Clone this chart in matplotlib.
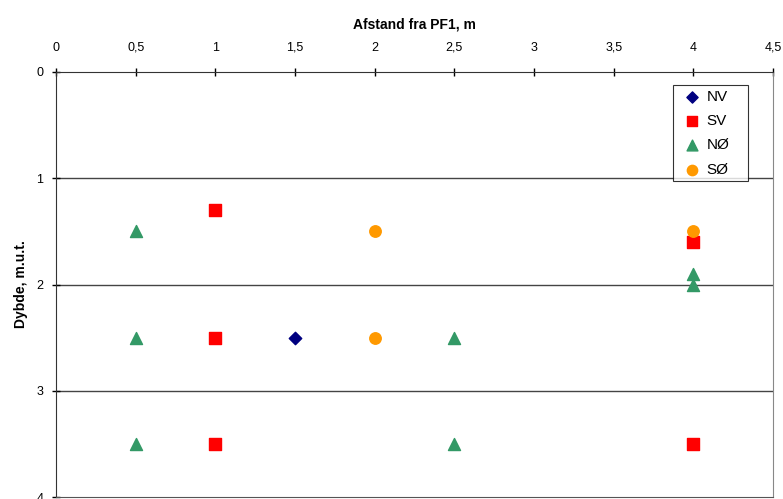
import matplotlib
matplotlib.use("Agg")
import matplotlib.pyplot as plt
from matplotlib.ticker import FuncFormatter

plt.rcParams['font.family'] = ['Liberation Sans', 'DejaVu Sans']

# afstand (m) og dybde (m.u.t.) for hver serie
nv_x = [1.5]
nv_y = [2.5]
sv_x = [1, 1, 1, 4, 4]
sv_y = [1.3, 2.5, 3.5, 1.6, 3.5]
no_x = [0.5, 0.5, 0.5, 2.5, 2.5, 4, 4]
no_y = [1.5, 2.5, 3.5, 2.5, 3.5, 1.9, 2.0]
so_x = [2, 2, 4]
so_y = [1.5, 2.5, 1.5]

x_ticks = [0, 0.5, 1, 1.5, 2, 2.5, 3, 3.5, 4, 4.5]
y_ticks = [0, 1, 2, 3, 4]

fig = plt.figure(figsize=(7.83, 4.99), dpi=100)
ax = fig.add_axes([56 / 783, 1 - 497 / 499, (773 - 56) / 783, (497 - 72) / 499])

ax.scatter(nv_x, nv_y, marker='D', s=40, color='#000080', label='NV', zorder=3)
ax.scatter(sv_x, sv_y, marker='s', s=68, color='#ff0000', label='SV', zorder=3)
ax.scatter(no_x, no_y, marker='^', s=75, color='#339966', label='NØ', zorder=3)
ax.scatter(so_x, so_y, marker='o', s=68, color='#ff9900', label='SØ', zorder=3)

ax.set_xlim(0, 4.5)
ax.set_ylim(4, 0)
ax.set_xticks(x_ticks)
ax.set_yticks(y_ticks)
comma = FuncFormatter(lambda v, p: ('%g' % v).replace('.', ','))
ax.xaxis.set_major_formatter(comma)
ax.yaxis.set_major_formatter(comma)
ax.xaxis.tick_top()
ax.xaxis.set_label_position('top')
ax.tick_params(axis='both', direction='inout', length=6, labelsize=9, width=1)
ax.tick_params(axis='x', pad=10)
ax.tick_params(axis='y', pad=6)

for g in [1, 2, 3]:
    ax.axhline(g, color='#444444', lw=1, zorder=1)

ax.spines['left'].set_color('#333333')
ax.spines['top'].set_color('#333333')
ax.spines['right'].set_color('#888888')
ax.spines['bottom'].set_color('#555555')

ax.set_xlabel('Afstand fra PF1, m', fontsize=10, fontweight='bold', labelpad=10)
ax.set_ylabel('Dybde, m.u.t.', fontsize=10, fontweight='bold', labelpad=6)

leg = ax.legend(loc='upper left', bbox_to_anchor=(617 / 717, 1 - 13 / 425 - 0.01, 75 / 717, 0.01),
                mode='expand', frameon=True, fancybox=False, edgecolor='black',
                fontsize=11, handletextpad=0.0, borderpad=0.3, labelspacing=0.68,
                handlelength=1.9, borderaxespad=0, markerscale=0.9)
leg.get_frame().set_linewidth(0.8)

fig.savefig('out.png', dpi=100)
